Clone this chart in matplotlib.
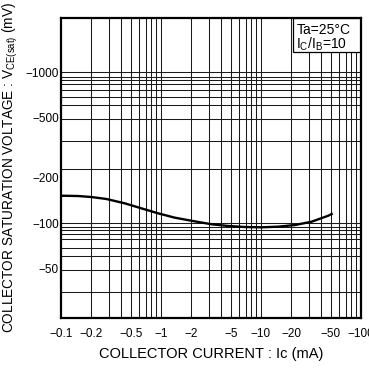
import matplotlib
matplotlib.use("Agg")
import matplotlib.pyplot as plt
from matplotlib.patches import Rectangle

plt.rcParams['font.family'] = ['Liberation Sans', 'DejaVu Sans']
plt.rcParams['mathtext.fontset'] = 'custom'
plt.rcParams['mathtext.rm'] = 'Liberation Sans'

# collector current (mA, magnitude) and saturation voltage (mV, magnitude)
ic_ma = [0.1, 0.148, 0.201, 0.284, 0.434, 0.635, 0.933, 1.37, 2.01, 3.21,
         4.71, 6.92, 10.2, 14.9, 21.9, 32.1, 47.1, 50.9]
vce_mv = [152.3, 151.6, 149.3, 144.9, 135.6, 125.7, 116.5, 109.0, 104.0, 98.5,
          96.0, 94.5, 94.1, 95.0, 97.4, 102.5, 112.3, 115.2]

# axis ranges and the grid as drawn on the sheet
x_range = (0.1, 100)
y_range = (23.6, 2288)
x_grid = [0.2, 0.3, 0.4, 0.5, 0.6, 0.7, 0.8, 0.9, 1,
          2, 3, 4, 5, 6, 7, 8, 9, 10,
          20, 30, 40, 50, 60, 70, 80, 90]
y_grid = [1000, 935, 885, 833, 767, 686, 605, 490, 352, 229,
          100, 94.9, 89.9, 84.5, 78.3, 68.6, 60.7, 49.1, 35.1]

x_ticks = [0.1, 0.2, 0.5, 1, 2, 5, 10, 20, 50, 100]
x_labels = ["\u22120.1", "\u22120.2", "\u22120.5", "\u22121", "\u22122",
            "\u22125", "\u221210", "\u221220", "\u221250", "\u2212100"]
y_ticks = [1000, 500, 200, 100, 50]
y_labels = ["\u22121000", "\u2212500", "\u2212200", "\u2212100", "\u221250"]

fig = plt.figure(figsize=(3.69, 3.69), dpi=100)
ax = fig.add_axes([61 / 369, 51 / 369, 300 / 369, 300 / 369])
ax.set_xscale('log')
ax.set_yscale('log')
ax.set_xlim(*x_range)
ax.set_ylim(*y_range)

for gx in x_grid:
    ax.axvline(gx, color='#1a1a1a', lw=0.75, zorder=1)
for gy in y_grid:
    ax.axhline(gy, color='#1a1a1a', lw=0.75, zorder=1)

ax.plot(ic_ma, vce_mv, color='black', lw=1.7, zorder=3)

ax.xaxis.set_minor_locator(matplotlib.ticker.NullLocator())
ax.yaxis.set_minor_locator(matplotlib.ticker.NullLocator())
ax.set_xticks(x_ticks)
ax.set_xticklabels(x_labels)
ax.set_yticks(y_ticks)
ax.set_yticklabels(y_labels)
ax.tick_params(axis='both', length=0, labelsize=8.5)
ax.tick_params(axis='x', pad=7)
ax.tick_params(axis='y', pad=1.5)

for sp in ax.spines.values():
    sp.set_linewidth(1.6)
    sp.set_zorder(5)

# condition box, top right
ax.add_patch(Rectangle((0.774, 0.8877), 0.226, 0.1123, transform=ax.transAxes,
                       facecolor='white', edgecolor='black', lw=0.9, zorder=4))
ax.text(0.785, 0.960, "Ta=25\u00b0C", transform=ax.transAxes, fontsize=10,
        ha='left', va='center', zorder=6)
ax.text(0.785, 0.912, r"I$\mathregular{_C}$/I$\mathregular{_B}$=10",
        transform=ax.transAxes, fontsize=10, ha='left', va='center', zorder=6)

ax.set_xlabel("COLLECTOR CURRENT : Ic (mA)", fontsize=10.5, labelpad=5)
ax.set_ylabel(r"COLLECTOR SATURATION VOLTAGE : V$\mathregular{_{CE(sat)}}$ (mV)",
              fontsize=9.8, labelpad=4)

fig.savefig("out.png", dpi=100)
